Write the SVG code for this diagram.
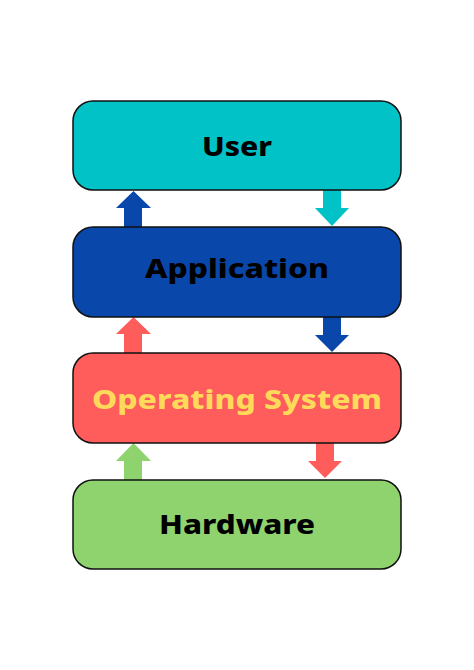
<svg xmlns="http://www.w3.org/2000/svg" width="474" height="670" viewBox="0 0 474 670">
<style>
.box{stroke:#111;stroke-width:1.5}
.lbl{font-family:"Noto Sans","DejaVu Sans",sans-serif;font-weight:800;font-size:27px;text-anchor:middle}
</style>
<rect width="474" height="670" fill="#fff"/>
<g id="connectors">
<polygon fill="#0A47AA" points="124,227 124,208 116,208 133.5,191 151,208 142,208 142,227"/>
<polygon fill="#00C2C7" points="323,190 323,208 315,208 332,226 349,208 341,208 341,190"/>
<polygon fill="#FF5C5C" points="124,353 124,334 116,334 133.5,317 151,334 142,334 142,353"/>
<polygon fill="#0A47AA" points="323,317 323,335 315,335 332,352 349,335 341,335 341,317"/>
<polygon fill="#8ED36E" points="124,480 124,461 116,461 133.5,443 151,461 142,461 142,480"/>
<polygon fill="#FF5C5C" points="316,443 316,461 308,461 325,478 342,461 334,461 334,443"/>
</g>
<g id="user">
<rect class="box" x="73" y="101" width="328" height="89" rx="20" fill="#00C2C7"/>
<text class="lbl" x="237" y="156" fill="#000" textLength="70" lengthAdjust="spacingAndGlyphs">User</text>
</g>
<g id="application">
<rect class="box" x="73" y="227" width="328" height="90" rx="20" fill="#0A47AA"/>
<text class="lbl" x="237" y="278" fill="#000" textLength="184" lengthAdjust="spacingAndGlyphs">Application</text>
</g>
<g id="os">
<rect class="box" x="73" y="353" width="328" height="90" rx="20" fill="#FF5C5C"/>
<text class="lbl" x="237" y="409" fill="#FFD95A" textLength="290" lengthAdjust="spacingAndGlyphs">Operating System</text>
</g>
<g id="hardware">
<rect class="box" x="73" y="480" width="328" height="89" rx="20" fill="#8ED36E"/>
<text class="lbl" x="237" y="534" fill="#000" textLength="156" lengthAdjust="spacingAndGlyphs">Hardware</text>
</g>
</svg>
